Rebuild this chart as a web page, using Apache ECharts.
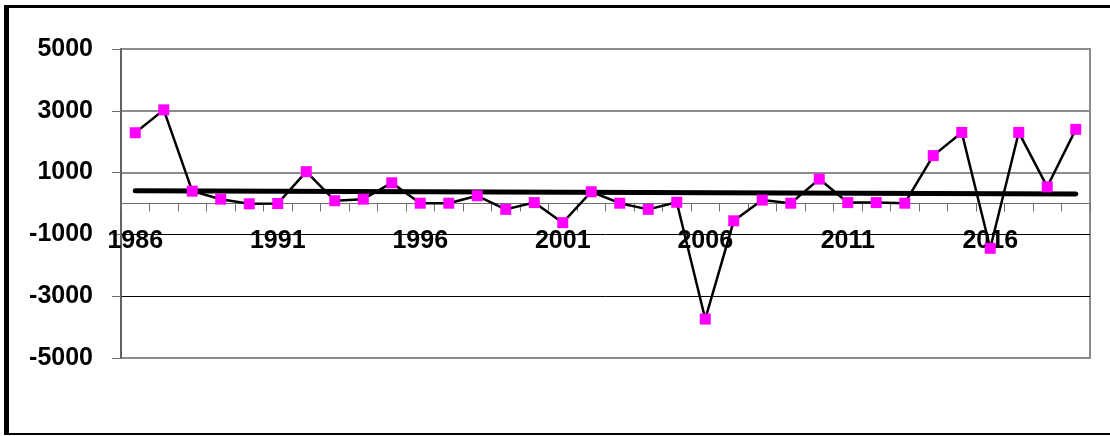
<!DOCTYPE html>
<html>
<head>
<meta charset="utf-8">
<script src="https://cdn.jsdelivr.net/npm/echarts@6/dist/echarts.min.js"></script>
<style>
  html, body { margin: 0; padding: 0; background: #fff; }
  #chart { width: 1110px; height: 436px; }
</style>
</head>
<body>
<div id="chart"></div>
<script>
// Years on the category axis
const years = [
  '1986','1987','1988','1989','1990','1991','1992','1993','1994','1995',
  '1996','1997','1998','1999','2000','2001','2002','2003','2004','2005',
  '2006','2007','2008','2009','2010','2011','2012','2013','2014','2015',
  '2016','2017','2018','2019'
];

// Yearly values
const values = [
  2290, 3030, 400, 140, -10, 0, 1030, 90, 140, 670,
  10, 10, 250, -190, 30, -620, 380, 10, -190, 40,
  -3740, -560, 110, 10, 790, 30, 30, 10, 1550, 2300,
  -1450, 2300, 540, 2400
];

// Linear trend: value at the first and at the last year
const trendYears = ['1986', '2019'];
const trendValues = [414, 307];

// Value axis range and step
const yMin = -5000;
const yMax = 5000;
const yStep = 2000;

const font = '"Liberation Sans", Arial, sans-serif';
const gray = '#8c8c8c';

// Grid geometry
const gridTop = 49;
const gridBottom = 78;
const chartHeight = 436;
const plotHeight = chartHeight - gridTop - gridBottom;

// The year labels hang just below the zero line; offset them from the bottom edge of the grid.
const zeroOffset = plotHeight * (0 - yMin) / (yMax - yMin);
const yearLabelGap = 25;

const chart = echarts.init(document.getElementById('chart'), null, { renderer: 'canvas' });

chart.setOption({
  animation: false,
  backgroundColor: '#fff',
  grid: {
    left: 121, right: 20, top: gridTop, bottom: gridBottom,
    show: true, borderColor: gray, borderWidth: 2, backgroundColor: 'transparent'
  },
  graphic: [
    { type: 'rect', shape: { x: 4, y: 5, width: 1106, height: 3 }, style: { fill: '#000' }, silent: true },
    { type: 'rect', shape: { x: 4, y: 5, width: 5, height: 430 }, style: { fill: '#000' }, silent: true },
    { type: 'rect', shape: { x: 4, y: 433, width: 1106, height: 2 }, style: { fill: '#000' }, silent: true }
  ],
  xAxis: {
    type: 'category',
    data: years,
    boundaryGap: true,
    axisLine: { onZero: true, lineStyle: { color: '#6e6e6e', width: 1 } },
    axisTick: { show: true, interval: 0, length: 8, lineStyle: { color: '#6e6e6e', width: 1 } },
    axisLabel: {
      interval: 4,
      margin: yearLabelGap - zeroOffset,
      color: '#000',
      fontFamily: font,
      fontWeight: 'bold',
      fontSize: 25
    },
    splitLine: { show: false }
  },
  yAxis: [
    {
      type: 'value',
      min: yMin, max: yMax, interval: yStep,
      axisLine: { show: true, lineStyle: { color: '#555', width: 1.5 } },
      axisTick: { show: true, length: 9, lineStyle: { color: '#6e6e6e', width: 1 } },
      axisLabel: {
        margin: 28,
        color: '#000',
        fontFamily: font,
        fontWeight: 'bold',
        fontSize: 25,
        formatter: (v) => String(v)
      },
      splitLine: {
        show: true,
        lineStyle: { color: [gray, 'transparent', 'transparent', gray, gray, gray], width: 2 }
      }
    },
    {
      type: 'value',
      min: yMin, max: yMax, interval: yStep,
      position: 'left',
      axisLine: { show: false },
      axisTick: { show: false },
      axisLabel: { show: false },
      splitLine: {
        show: true,
        lineStyle: { color: ['transparent', '#000', '#000', 'transparent', 'transparent', 'transparent'], width: 1 }
      }
    }
  ],
  series: [
    {
      name: 'trend',
      type: 'line',
      z: 3,
      data: trendYears.map((y, i) => [y, trendValues[i]]),
      showSymbol: false,
      symbol: 'none',
      lineStyle: { color: '#000', width: 5, cap: 'round' },
      silent: true
    },
    {
      name: 'values',
      type: 'line',
      z: 4,
      data: values,
      symbol: 'rect',
      symbolSize: 11,
      showAllSymbol: true,
      lineStyle: { color: '#000', width: 2.5 },
      itemStyle: { color: '#ff00ff', borderWidth: 0 },
      silent: true
    }
  ]
});
</script>
</body>
</html>
